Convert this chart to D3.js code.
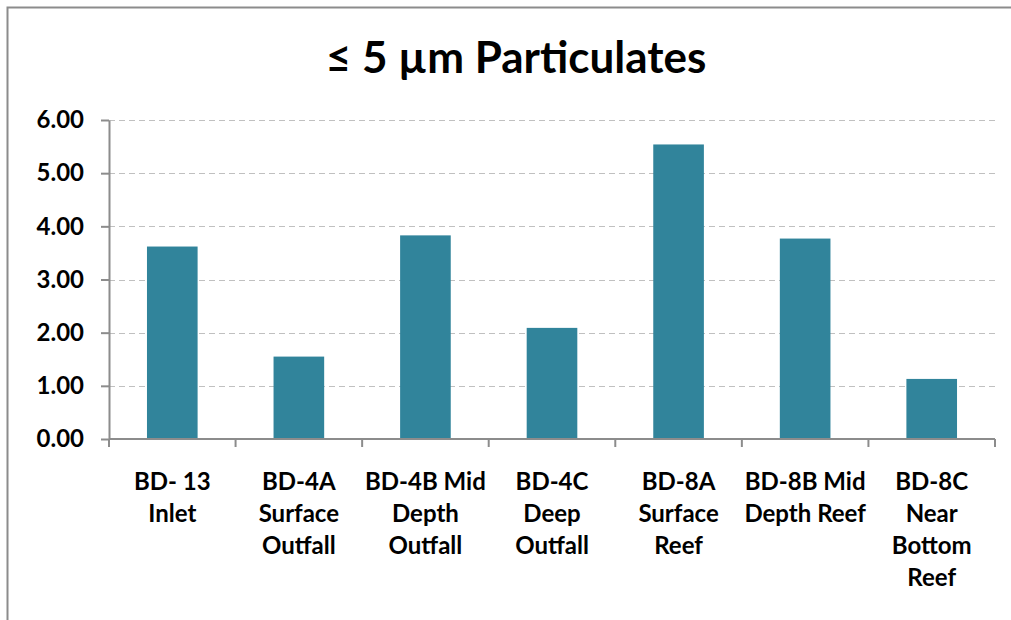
<!DOCTYPE html>
<html>
<head>
<meta charset="utf-8">
<style>
  body { margin: 0; background: #fff; }
  svg { display: block; font-family: Lato, Carlito, "Open Sans", sans-serif; }
  .grid line { stroke: #c0c0c0; stroke-dasharray: 6 4; stroke-width: 1.2; }
  .axis path, .axis line { stroke: #8c8c8c; stroke-width: 2; }
  .axis text { font-family: Lato, Carlito, "Open Sans", sans-serif; font-weight: bold; fill: #000; }
</style>
</head>
<body>
<div id="chart"></div>
<script src="https://d3js.org/d3.v7.min.js"></script>
<script>
  // Data
  const categories = [
    ['BD- 13', 'Inlet'],
    ['BD-4A', 'Surface', 'Outfall'],
    ['BD-4B Mid', 'Depth', 'Outfall'],
    ['BD-4C', 'Deep', 'Outfall'],
    ['BD-8A', 'Surface', 'Reef'],
    ['BD-8B Mid', 'Depth Reef'],
    ['BD-8C', 'Near', 'Bottom', 'Reef']
  ];
  const values = [3.62, 1.55, 3.83, 2.09, 5.54, 3.77, 1.13];
  const yTicks = [0, 1, 2, 3, 4, 5, 6];
  const title = '\u2264 5 \u00b5m Particulates';

  const width = 1011;
  const height = 620;
  const margin = { top: 120, right: 16, bottom: 181, left: 109 };

  const svg = d3.select('#chart')
    .append('svg')
    .attr('width', width)
    .attr('height', height);

  // chart frame
  svg.append('rect')
    .attr('x', 7.5)
    .attr('y', 7.5)
    .attr('width', width + 20)
    .attr('height', height + 20)
    .attr('fill', 'none')
    .attr('stroke', '#8c8c8c')
    .attr('stroke-width', 2);

  const keys = categories.map((d, i) => i);

  const x = d3.scaleBand()
    .domain(keys)
    .range([margin.left, width - margin.right])
    .paddingInner(0.6)
    .paddingOuter(0.3);

  const y = d3.scaleLinear()
    .domain([0, 6])
    .range([height - margin.bottom, margin.top]);

  // gridlines
  svg.append('g')
    .attr('class', 'grid')
    .selectAll('line')
    .data(yTicks.filter(d => d > 0))
    .enter()
    .append('line')
    .attr('x1', margin.left)
    .attr('x2', width - margin.right)
    .attr('y1', d => Math.round(y(d)) + 0.5)
    .attr('y2', d => Math.round(y(d)) + 0.5);

  // bars
  svg.selectAll('.bar')
    .data(values)
    .enter()
    .append('rect')
    .attr('class', 'bar')
    .attr('x', (d, i) => x(i))
    .attr('y', d => y(d))
    .attr('width', x.bandwidth())
    .attr('height', d => y(0) - y(d))
    .attr('fill', '#31849b');

  // y axis
  const yAxis = d3.axisLeft(y)
    .tickValues(yTicks)
    .tickFormat(d3.format('.2f'))
    .tickSize(8)
    .tickSizeOuter(0)
    .tickPadding(17);
  svg.append('g')
    .attr('class', 'axis')
    .attr('transform', `translate(${margin.left}, 0)`)
    .call(yAxis)
    .selectAll('text')
    .style('font-size', '24px');

  // x axis: ticks at category boundaries
  const step = x.step();
  const bounds = d3.range(categories.length + 1).map(i => margin.left + i * step);
  const xg = svg.append('g')
    .attr('class', 'axis')
    .attr('transform', `translate(0, ${y(0)})`);
  xg.append('line')
    .attr('x1', margin.left)
    .attr('x2', width - margin.right)
    .attr('y1', 0)
    .attr('y2', 0);
  xg.selectAll('.tick')
    .data(bounds)
    .enter()
    .append('line')
    .attr('x1', d => d)
    .attr('x2', d => d)
    .attr('y1', 0)
    .attr('y2', 8);

  const labels = svg.append('g')
    .attr('class', 'axis');
  categories.forEach((lines, i) => {
    const t = labels.append('text')
      .attr('text-anchor', 'middle')
      .style('font-size', '24px')
      .attr('x', x(i) + x.bandwidth() / 2)
      .attr('y', 490);
    lines.forEach((l, j) => {
      t.append('tspan')
        .attr('x', x(i) + x.bandwidth() / 2)
        .attr('dy', j === 0 ? 0 : 32)
        .text(l);
    });
  });

  svg.append('text')
    .attr('x', 516)
    .attr('y', 73)
    .attr('text-anchor', 'middle')
    .style('font-size', '44px')
    .style('font-weight', 'bold')
    .text(title);
</script>
</body>
</html>
